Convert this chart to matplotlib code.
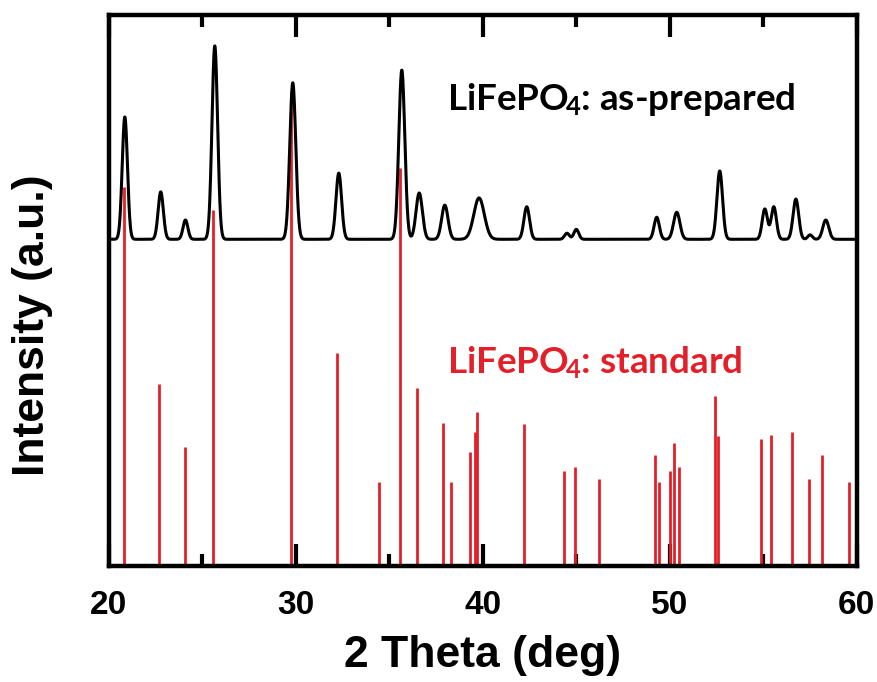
import matplotlib
matplotlib.use('Agg')
import matplotlib.pyplot as plt
import numpy as np
from matplotlib.ticker import MultipleLocator

# measured pattern (as-prepared): peak centre, height above baseline, width (sigma)
peak_pos = [20.86, 22.78, 24.10, 25.67, 29.84, 32.30, 35.67, 36.60, 37.97, 39.80,
            42.35, 44.50, 45.00, 49.30, 50.37, 52.67, 55.08, 55.56, 56.74, 57.50, 58.34]
peak_hgt = [22.2, 8.6, 3.5, 35.1, 28.4, 12.0, 30.7, 8.4, 6.2, 7.5,
            5.9, 1.1, 1.8, 4.0, 4.9, 12.4, 5.5, 5.9, 7.3, 0.8, 3.5]
peak_sig = [0.14, 0.14, 0.13, 0.15, 0.16, 0.15, 0.16, 0.17, 0.17, 0.28,
            0.15, 0.13, 0.13, 0.14, 0.17, 0.15, 0.14, 0.14, 0.15, 0.12, 0.16]
baseline = 59.3

# reference card sticks (standard)
std_pos = [20.80, 22.67, 24.06, 25.56, 29.73, 32.20, 34.44, 35.56, 36.47, 37.86,
           38.29, 39.30, 39.60, 39.70, 42.20, 44.33, 44.92, 46.22, 49.20, 49.40,
           50.00, 50.20, 50.48, 52.40, 52.56, 54.87, 55.40, 56.52, 57.43, 58.13, 59.57]
std_hgt = [68.8, 33.0, 21.6, 64.6, 86.0, 38.7, 15.2, 72.2, 32.3, 26.0,
           15.2, 20.7, 24.3, 27.9, 25.8, 17.2, 18.0, 15.8, 20.1, 15.2,
           17.2, 22.3, 18.0, 30.9, 23.6, 23.0, 23.8, 24.3, 15.8, 20.1, 15.2]

tt = np.linspace(20, 60, 4000)
yy = np.full_like(tt, baseline)
for p, h, s in zip(peak_pos, peak_hgt, peak_sig):
    yy += h * np.exp(-0.5 * ((tt - p) / s) ** 2)

plt.rcParams['mathtext.fontset'] = 'custom'
plt.rcParams['mathtext.rm'] = 'Lato:bold'
plt.rcParams['mathtext.it'] = 'Lato:bold'
plt.rcParams['mathtext.bf'] = 'Lato:bold'
plt.rcParams['mathtext.default'] = 'rm'

fig = plt.figure(figsize=(8.77, 6.82), dpi=100)
ax = fig.add_axes([0.124, 0.170, 0.853, 0.808])

red = '#e3202a'
ax.vlines(std_pos, 0, std_hgt, color=red, linewidth=2.0)
ax.plot(tt, yy, color='black', linewidth=2.2)

ax.set_xlim(20, 60)
ax.set_ylim(0, 100)
ax.xaxis.set_major_locator(MultipleLocator(10))
ax.xaxis.set_minor_locator(MultipleLocator(5))
ax.tick_params(axis='x', which='both', direction='in', top=True, width=3)
ax.tick_params(axis='x', which='major', length=16, pad=17)
ax.tick_params(axis='x', which='minor', length=8.5)
ax.set_yticks([])
for sp in ax.spines.values():
    sp.set_linewidth(3.2)

for lab in ax.get_xticklabels():
    lab.set_fontfamily('Liberation Sans')
    lab.set_fontweight('bold')
    lab.set_fontsize(24)

ax.set_xlabel('2 Theta (deg)', fontsize=32, fontweight='bold',
              fontfamily='Liberation Sans', va='top')
ax.xaxis.set_label_coords(0.5, -0.125)
ax.set_ylabel('Intensity (a.u.)', fontsize=32, fontweight='bold',
              fontfamily='Liberation Sans', va='center')
ax.yaxis.set_label_coords(-0.102, 0.437)

ax.text(38.07, 82.8, r'LiFePO$_{\!4}$: as-prepared', fontsize=26.5, fontfamily='Lato',
        fontweight='bold', color='black', va='baseline', ha='left')
ax.text(38.07, 35.0, r'LiFePO$_{\!4}$: standard', fontsize=26.5, fontfamily='Lato',
        fontweight='bold', color=red, va='baseline', ha='left')

fig.savefig('out.png', dpi=100)
